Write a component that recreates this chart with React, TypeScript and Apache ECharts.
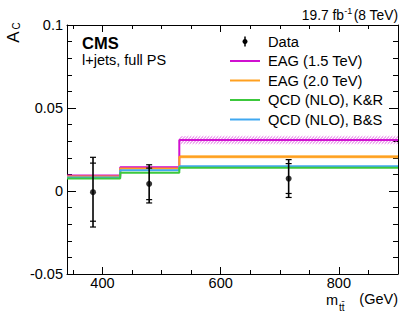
import React, { useEffect, useRef } from "react";
import * as echarts from "echarts";

// ---- data ----
const binEdges = [340, 430, 530, 900];
const eag15 = [0.0093, 0.0143, 0.0307];
const eag15Unc = [0.0003, 0.0003, 0.0023];
const eag20 = [0.0087, 0.0136, 0.0206];
const eag20Unc = [0.0002, 0.0002, 0.0009];
const qcdKR = [0.0075, 0.011, 0.014];
const qcdBS = [0.0081, 0.0125, 0.0149];

const dataMass = [384, 479, 715];
const dataAc = [-0.0007, 0.0043, 0.0075];
const dataStat = [0.0175, 0.0095, 0.009];
const dataTotal = [0.021, 0.0115, 0.0114];

const xMajor = [400, 600, 800];
const xMinor = [350, 450, 500, 550, 650, 700, 750, 850];
const yMajor = [-0.05, 0, 0.05, 0.1];
const yTickLabels = ["-0.05", "0", "0.05", "0.1"];
const yMinor = [-0.04, -0.03, -0.02, -0.01, 0.01, 0.02, 0.03, 0.04, 0.06, 0.07, 0.08, 0.09];

const legendLabels = ["Data", "EAG (1.5 TeV)", "EAG (2.0 TeV)", "QCD (NLO), K&R", "QCD (NLO), B&S"];

const FONT = "Liberation Sans, Arial, Helvetica, sans-serif";
const C_MAG = "#d010d0";
const C_MAG_H = "#e060e0";
const C_ORA = "#ffa020";
const C_ORA_H = "#ffc060";
const C_GRN = "#3cc83c";
const C_BLU = "#40a8f0";
const legendColors = [null, C_MAG, C_ORA, C_GRN, C_BLU];

const stepData = (vals: number[]) =>
  binEdges.map((e, i) => [e, vals[Math.min(i, vals.length - 1)]]);
const bandData = (vals: number[], unc: number[]) =>
  vals.map((v, i) => [binEdges[i], binEdges[i + 1], v - unc[i], v + unc[i]]);

const bandRender = (color: string) => (params: any, api: any) => {
  const x0 = api.value(0), x1 = api.value(1), lo = api.value(2), hi = api.value(3);
  const pTL = api.coord([x0, hi]);
  const pBR = api.coord([x1, lo]);
  const left = pTL[0], top = pTL[1], right = pBR[0], bottom = pBR[1];
  const h = bottom - top;
  const children: any[] = [];
  if (h < 5) {
    children.push({ type: "rect", shape: { x: left, y: top, width: right - left, height: h }, style: { fill: color } });
  } else {
    for (let a = left - h; a < right; a += 3) {
      const t0 = Math.max(0, (left - a) / h);
      const t1 = Math.min(1, (right - a) / h);
      if (t1 <= t0) continue;
      children.push({
        type: "line",
        shape: { x1: a + t0 * h, y1: bottom - t0 * h, x2: a + t1 * h, y2: bottom - t1 * h },
        style: { stroke: color, lineWidth: 1 },
      });
    }
  }
  return { type: "group", children };
};

const errRender = (params: any, api: any) => {
  const x = api.value(0), y = api.value(1), s = api.value(2), t = api.value(3);
  const pT = api.coord([x, y + t]);
  const pB = api.coord([x, y - t]);
  const sT = api.coord([x, y + s]);
  const sB = api.coord([x, y - s]);
  const cap = (p: number[]) => ({
    type: "line",
    shape: { x1: p[0] - 3, y1: p[1], x2: p[0] + 3, y2: p[1] },
    style: { stroke: "#000", lineWidth: 1.2 },
  });
  return {
    type: "group",
    children: [
      { type: "line", shape: { x1: pT[0], y1: pT[1], x2: pB[0], y2: pB[1] }, style: { stroke: "#000", lineWidth: 1.6 } },
      cap(pT), cap(pB), cap(sT), cap(sB),
    ],
  };
};

const xBase = { type: "value", min: 340, max: 900, gridIndex: 0, splitLine: { show: false } };
const yBase = { type: "value", min: -0.05, max: 0.1, gridIndex: 0, splitLine: { show: false } };

export default function App() {
  const ref = useRef<HTMLDivElement>(null);
  useEffect(() => {
    if (!ref.current) return;
    const chart = echarts.init(ref.current, undefined, { renderer: "svg" });
    const lineSeries = (vals: number[], color: string) => ({
      type: "line",
      step: "end",
      data: stepData(vals),
      showSymbol: false,
      symbol: "none",
      lineStyle: { color, width: 2 },
      silent: true,
      xAxisIndex: 0,
      yAxisIndex: 0,
    });
    const bandSeries = (vals: number[], unc: number[], color: string) => ({
      type: "custom",
      data: bandData(vals, unc),
      renderItem: bandRender(color),
      encode: { x: [0, 1], y: [2, 3] },
      silent: true,
      xAxisIndex: 0,
      yAxisIndex: 0,
    });

    const rows = [41.5, 61, 80.5, 100, 119.5];
    const graphics: any[] = [];
    rows.forEach((ry, i) => {
      const col = legendColors[i];
      if (col) {
        graphics.push({ type: "line", shape: { x1: 230, y1: ry, x2: 260, y2: ry }, style: { stroke: col, lineWidth: 2 } });
      } else {
        graphics.push({ type: "line", shape: { x1: 245, y1: ry - 5, x2: 245, y2: ry + 5 }, style: { stroke: "#000", lineWidth: 1.5 } });
        graphics.push({ type: "circle", shape: { cx: 245, cy: ry, r: 2.5 }, style: { fill: "#000" } });
      }
      graphics.push({
        type: "text", x: 268, y: ry,
        style: { text: legendLabels[i], fontSize: 14.7, fontFamily: FONT, fill: "#000", align: "left", verticalAlign: "middle" },
      });
    });
    graphics.push(
      { type: "text", x: 82, y: 43, style: { text: "CMS", fontSize: 16.5, fontWeight: "bold", fontFamily: FONT, fill: "#000", verticalAlign: "middle" } },
      { type: "text", x: 82, y: 60, style: { text: "l+jets, full PS", fontSize: 14.5, fontFamily: FONT, fill: "#000", verticalAlign: "middle" } },
      { type: "text", x: 344, y: 15.5, style: { text: "19.7 fb", fontSize: 13.8, fontFamily: FONT, fill: "#000", align: "right", verticalAlign: "middle" } },
      { type: "text", x: 344.3, y: 11, style: { text: "-1", fontSize: 9, fontFamily: FONT, fill: "#000", align: "left", verticalAlign: "middle" } },
      { type: "text", x: 398, y: 15.5, style: { text: "(8 TeV)", fontSize: 13.8, fontFamily: FONT, fill: "#000", align: "right", verticalAlign: "middle" } },
      { type: "text", x: 13, y: 37, rotation: Math.PI / 2, style: { text: "A", fontSize: 17, fontFamily: FONT, fill: "#000", align: "center", verticalAlign: "middle" } },
      { type: "text", x: 16, y: 26, rotation: Math.PI / 2, style: { text: "C", fontSize: 10, fontFamily: FONT, fill: "#000", align: "center", verticalAlign: "middle" } },
      { type: "text", x: 338, y: 299.5, style: { text: "m", fontSize: 14.5, fontFamily: FONT, fill: "#000", align: "right", verticalAlign: "middle" } },
      { type: "text", x: 339, y: 307, style: { text: "tt\u0304", fontSize: 10, fontFamily: FONT, fill: "#000", align: "left", verticalAlign: "middle" } },
      { type: "text", x: 398, y: 299, style: { text: "(GeV)", fontSize: 14.5, fontFamily: FONT, fill: "#000", align: "right", verticalAlign: "middle" } },
    );

    chart.setOption({
      animation: false,
      backgroundColor: "#fff",
      grid: { left: 67, top: 25, right: 17, bottom: 42, containLabel: false },
      xAxis: [
        {
          ...xBase, position: "bottom",
          axisLine: { show: true, onZero: false, lineStyle: { color: "#000", width: 1 } },
          axisTick: { show: true, inside: true, length: 7, customValues: xMajor, lineStyle: { color: "#000" } },
          axisLabel: { show: true, customValues: xMajor, fontSize: 14.5, fontFamily: FONT, color: "#000", margin: 1 },
        },
        {
          ...xBase, position: "bottom",
          axisLine: { show: false, onZero: false },
          axisTick: { show: true, inside: true, length: 4, customValues: xMinor, lineStyle: { color: "#000" } },
          axisLabel: { show: false },
        },
        {
          ...xBase, position: "top",
          axisLine: { show: true, onZero: false, lineStyle: { color: "#000", width: 1 } },
          axisTick: { show: true, inside: true, length: 7, customValues: xMajor, lineStyle: { color: "#000" } },
          axisLabel: { show: false },
        },
        {
          ...xBase, position: "top",
          axisLine: { show: false, onZero: false },
          axisTick: { show: true, inside: true, length: 4, customValues: xMinor, lineStyle: { color: "#000" } },
          axisLabel: { show: false },
        },
      ],
      yAxis: [
        {
          ...yBase, position: "left",
          axisLine: { show: true, onZero: false, lineStyle: { color: "#000", width: 1 } },
          axisTick: { show: true, inside: true, length: 9, customValues: yMajor, lineStyle: { color: "#000" } },
          axisLabel: {
            show: true, customValues: yMajor, fontSize: 14.5, fontFamily: FONT, color: "#000", margin: 4,
            formatter: (v: number) => yTickLabels[yMajor.findIndex((t) => Math.abs(t - v) < 1e-9)] ?? "",
          },
        },
        {
          ...yBase, position: "left",
          axisLine: { show: false, onZero: false },
          axisTick: { show: true, inside: true, length: 5, customValues: yMinor, lineStyle: { color: "#000" } },
          axisLabel: { show: false },
        },
        {
          ...yBase, position: "right",
          axisLine: { show: true, onZero: false, lineStyle: { color: "#000", width: 1 } },
          axisTick: { show: true, inside: true, length: 9, customValues: yMajor, lineStyle: { color: "#000" } },
          axisLabel: { show: false },
        },
        {
          ...yBase, position: "right",
          axisLine: { show: false, onZero: false },
          axisTick: { show: true, inside: true, length: 5, customValues: yMinor, lineStyle: { color: "#000" } },
          axisLabel: { show: false },
        },
      ],
      series: [
        bandSeries(eag15, eag15Unc, C_MAG_H),
        lineSeries(eag15, C_MAG),
        bandSeries(eag20, eag20Unc, C_ORA_H),
        lineSeries(eag20, C_ORA),
        lineSeries(qcdBS, C_BLU),
        lineSeries(qcdKR, C_GRN),
        {
          type: "custom",
          data: dataMass.map((m, i) => [m, dataAc[i], dataStat[i], dataTotal[i]]),
          renderItem: errRender,
          encode: { x: 0, y: 1 },
          silent: true,
          z: 5,
        },
        {
          type: "scatter",
          data: dataMass.map((m, i) => [m, dataAc[i]]),
          symbol: "circle",
          symbolSize: 6,
          itemStyle: { color: "#000" },
          silent: true,
          z: 6,
        },
      ],
      graphic: graphics,
    });
    return () => chart.dispose();
  }, []);
  return (
    <div
      ref={ref}
      style={{ position: "fixed", left: 0, top: 0, width: 415, height: 316, background: "#fff" }}
    />
  );
}
